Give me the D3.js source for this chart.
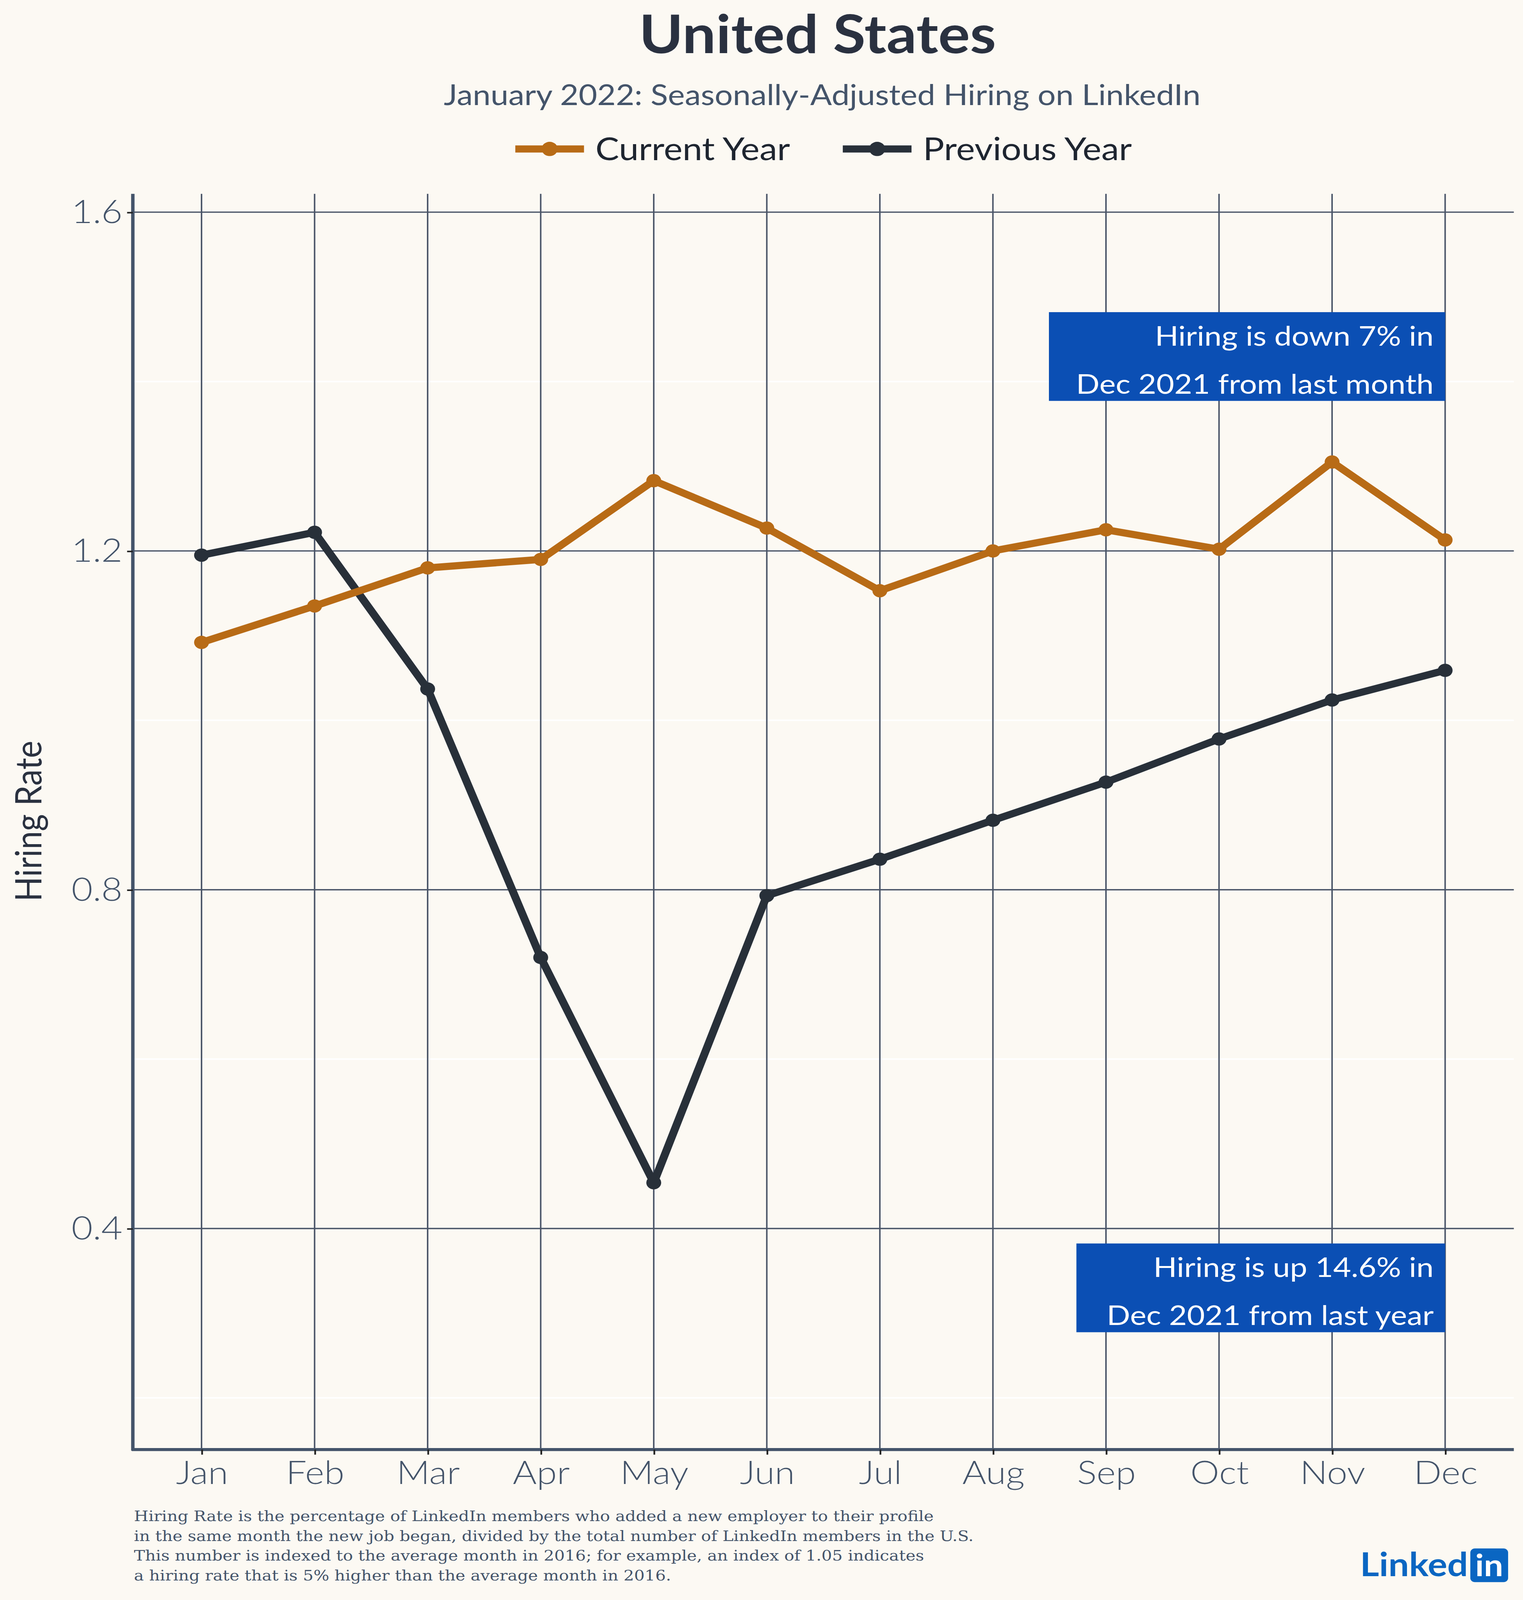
<html>
<head>
<script src="https://d3js.org/d3.v7.min.js"></script>
<style>html,body{margin:0;padding:0;overflow:hidden;background:#fcf9f3;} svg{display:block;width:100vw;height:100vh;}</style>
</head>
<body>
<div id="viz"></div>
<script>
var months = ["Jan","Feb","Mar","Apr","May","Jun","Jul","Aug","Sep","Oct","Nov","Dec"];
var currentYear = [1.092,1.135,1.18,1.19,1.283,1.227,1.153,1.2,1.225,1.202,1.305,1.213];
var previousYear = [1.195,1.222,1.037,0.72,0.454,0.793,0.836,0.882,0.927,0.978,1.024,1.059];
var yTicks = [0.4,0.8,1.2,1.6];
var yMinor = [0.2,0.6,1.0,1.4];
var notes = ["Hiring is down 7% in|Dec 2021 from last month","Hiring is up 14.6% in|Dec 2021 from last year"];
var footnote = ["Hiring Rate is the percentage of LinkedIn members who added a new employer to their profile",
 "in the same month the new job began, divided by the total number of LinkedIn members in the U.S.",
 "This number is indexed to the average month in 2016; for example, an index of 1.05 indicates",
 "a hiring rate that is 5% higher than the average month in 2016."];

var W = 1330, H = 1568.5;
var svg = d3.select("#viz").append("svg")
  .attr("viewBox","0 0 "+W+" "+H)
  .attr("preserveAspectRatio","none")
  .style("font-family","Lato, 'Open Sans', sans-serif");
svg.append("rect").attr("width",W).attr("height",H).attr("fill","#fcf9f3");

var pLeft=116, pRight=1322, pTop=190, pBottom=1421;
var x = d3.scalePoint().domain(months).range([176,1262]);
var y = d3.scaleLinear().domain([0.139,1.6]).range([pBottom,208]);
var grid = "#4a5568";

svg.selectAll(".minor").data(yMinor).enter().append("line")
  .attr("x1",pLeft).attr("x2",pRight).attr("y1",d=>y(d)).attr("y2",d=>y(d))
  .attr("stroke","#ffffff").attr("stroke-width",1.5);
svg.selectAll(".gy").data(yTicks).enter().append("line")
  .attr("x1",pLeft).attr("x2",pRight).attr("y1",d=>y(d)).attr("y2",d=>y(d))
  .attr("stroke",grid).attr("stroke-width",1.3);
svg.selectAll(".gx").data(months).enter().append("line")
  .attr("x1",d=>x(d)).attr("x2",d=>x(d)).attr("y1",pTop).attr("y2",pBottom)
  .attr("stroke",grid).attr("stroke-width",1.3);

svg.append("line").attr("x1",pLeft).attr("x2",pLeft).attr("y1",pTop).attr("y2",pBottom+1)
  .attr("stroke","#44546a").attr("stroke-width",3);
svg.append("line").attr("x1",pLeft-1).attr("x2",pRight).attr("y1",pBottom).attr("y2",pBottom)
  .attr("stroke","#44546a").attr("stroke-width",3);

var yAx = svg.append("g").attr("transform","translate("+pLeft+",0)")
  .call(d3.axisLeft(y).tickValues(yTicks).tickFormat(d3.format(".1f")).tickSize(5).tickPadding(4));
yAx.select(".domain").remove();
yAx.selectAll("line").attr("stroke","#222").attr("stroke-width",1.5);
yAx.selectAll("text").attr("font-size",32).attr("fill","#44546a").attr("font-family","Lato, sans-serif").attr("font-weight",300);
var xAx = svg.append("g").attr("transform","translate(0,"+pBottom+")")
  .call(d3.axisBottom(x).tickSize(5).tickPadding(6));
xAx.select(".domain").remove();
xAx.selectAll("line").attr("stroke","#222").attr("stroke-width",1.5);
xAx.selectAll("text").attr("font-size",32).attr("fill","#44546a").attr("font-family","Lato, sans-serif").attr("font-weight",300);

svg.append("text").attr("transform","translate(36,805) rotate(-90)").attr("text-anchor","middle")
  .attr("font-size",32).attr("fill","#2a3140").text("Hiring Rate");

var line = d3.line().x((d,i)=>x(months[i])).y(d=>y(d));
[[previousYear,"#283039"],[currentYear,"#b86b16"]].forEach(function(s){
  svg.append("path").datum(s[0]).attr("d",line).attr("fill","none")
    .attr("stroke",s[1]).attr("stroke-width",7).attr("stroke-linejoin","round");
  svg.selectAll(null).data(s[0]).enter().append("circle")
    .attr("cx",(d,i)=>x(months[i])).attr("cy",d=>y(d)).attr("r",6.5).attr("fill",s[1]);
});

svg.append("text").attr("x",714).attr("y",52).attr("text-anchor","middle")
  .attr("font-size",52).attr("font-weight","bold").attr("fill","#2a3140").text("United States");
svg.append("text").attr("x",718).attr("y",103).attr("text-anchor","middle")
  .attr("font-size",28).attr("fill","#44546a").text("January 2022: Seasonally-Adjusted Hiring on LinkedIn");

var leg = [["Current Year","#b86b16",450],["Previous Year","#283039",736]];
leg.forEach(function(l){
  svg.append("line").attr("x1",l[2]).attr("x2",l[2]+60).attr("y1",146).attr("y2",146)
    .attr("stroke",l[1]).attr("stroke-width",7);
  svg.append("circle").attr("cx",l[2]+30).attr("cy",146).attr("r",7).attr("fill",l[1]);
  svg.append("text").attr("x",l[2]+70).attr("y",157).attr("font-size",31).attr("fill","#1e2530").text(l[0]);
});

var boxes = [[916,306,notes[0]],[940,1219,notes[1]]];
boxes.forEach(function(b){
  svg.append("rect").attr("x",b[0]).attr("y",b[1]).attr("width",1262-b[0]).attr("height",87).attr("fill","#0b4fb4");
  b[2].split("|").forEach(function(t,i){
    svg.append("text").attr("x",1252).attr("y",b[1]+33+i*47).attr("text-anchor","end")
      .attr("font-size",27).attr("fill","#ffffff").text(t);
  });
});

footnote.forEach(function(t,i){
  svg.append("text").attr("x",117).attr("y",1491+i*19.5)
    .attr("fill","#44546a").attr("font-family","'DejaVu Serif', serif").attr("font-size",14.5).text(t);
});

svg.append("text").attr("x",1282).attr("y",1545).attr("text-anchor","end").attr("font-size",32)
  .attr("font-weight","bold").attr("fill","#0a66c2").text("Linked");
svg.append("rect").attr("x",1284).attr("y",1518).attr("width",33).attr("height",33).attr("rx",4).attr("fill","#0a66c2");
svg.append("text").attr("x",1300.5).attr("y",1545).attr("text-anchor","middle").attr("font-size",30)
  .attr("font-weight","bold").attr("fill","#fff").text("in");
</script>
</body>
</html>
